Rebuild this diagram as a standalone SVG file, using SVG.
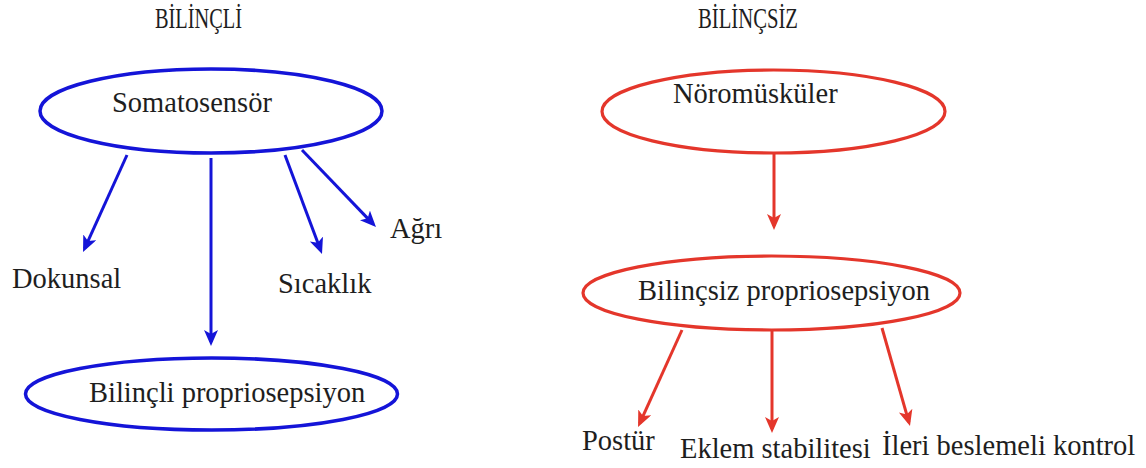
<svg xmlns="http://www.w3.org/2000/svg" width="1146" height="468" viewBox="0 0 1146 468">
  <style>
    text { font-family: "Liberation Serif", "Times New Roman", serif; fill: #1e1e1e; }
    .lbl { font-size: 28.5px; }
    .title { font-size: 29px; }
    .blue { fill: none; stroke: #1414d8; stroke-width: 3.5; }
    .red { fill: none; stroke: #e4362b; stroke-width: 3.2; }
    .ab { fill: none; stroke: #1414d8; stroke-width: 3; }
    .ar { fill: none; stroke: #e4362b; stroke-width: 3; }
  </style>
  <defs>
    <marker id="headBlue" markerUnits="userSpaceOnUse" markerWidth="17" markerHeight="15" refX="12" refY="7" orient="auto">
      <path d="M0,0 L16,7 L0,14 L4,7 z" fill="#1414d8"/>
    </marker>
    <marker id="headRed" markerUnits="userSpaceOnUse" markerWidth="17" markerHeight="15" refX="12" refY="7" orient="auto">
      <path d="M0,0 L16,7 L0,14 L4,7 z" fill="#e4362b"/>
    </marker>
  </defs>
  <rect width="1146" height="468" fill="#ffffff"/>

  <!-- column headings -->
  <text class="title" x="155" y="28" textLength="87" lengthAdjust="spacingAndGlyphs">BİLİNÇLİ</text>
  <text class="title" x="698" y="28" textLength="100" lengthAdjust="spacingAndGlyphs">BİLİNÇSİZ</text>

  <!-- conscious side -->
  <g id="somatosensor">
    <ellipse class="blue" cx="211" cy="111" rx="171" ry="42"/>
    <text class="lbl" x="112" y="112">Somatosensör</text>
  </g>
  <g id="bilincli-propriosepsiyon">
    <ellipse class="blue" cx="211.5" cy="394" rx="186" ry="36"/>
    <text class="lbl" x="89" y="402">Bilinçli propriosepsiyon</text>
  </g>
  <g id="dokunsal"><text class="lbl" x="12" y="288">Dokunsal</text></g>
  <g id="sicaklik"><text class="lbl" x="278" y="293">Sıcaklık</text></g>
  <g id="agri"><text class="lbl" x="390" y="238">Ağrı</text></g>

  <!-- unconscious side -->
  <g id="noromuskuler">
    <ellipse class="red" cx="773.5" cy="111.5" rx="171.5" ry="41.5"/>
    <text class="lbl" x="673" y="103">Nöromüsküler</text>
  </g>
  <g id="bilincsiz-propriosepsiyon">
    <ellipse class="red" cx="771.5" cy="293" rx="188.5" ry="37"/>
    <text class="lbl" x="638" y="300">Bilinçsiz propriosepsiyon</text>
  </g>
  <g id="postur"><text class="lbl" x="582" y="450">Postür</text></g>
  <g id="eklem-stabilitesi"><text class="lbl" x="680" y="458">Eklem stabilitesi</text></g>
  <g id="ileri-beslemeli-kontrol"><text class="lbl" x="882" y="455">İleri beslemeli kontrol</text></g>

  <!-- connectors -->
  <g id="connectors">
    <path class="ab" d="M127,155 L84.7,248.4" marker-end="url(#headBlue)"/>
    <path class="ab" d="M211,158 L211,342" marker-end="url(#headBlue)"/>
    <path class="ab" d="M285,155 L320.6,250.3" marker-end="url(#headBlue)"/>
    <path class="ab" d="M302,150 L373.2,224.1" marker-end="url(#headBlue)"/>
    <path class="ar" d="M774,153 L774,226" marker-end="url(#headRed)"/>
    <path class="ar" d="M682,330 L639.7,423.4" marker-end="url(#headRed)"/>
    <path class="ar" d="M772,331 L772,429" marker-end="url(#headRed)"/>
    <path class="ar" d="M882,328 L908.9,422.2" marker-end="url(#headRed)"/>
  </g>
</svg>
